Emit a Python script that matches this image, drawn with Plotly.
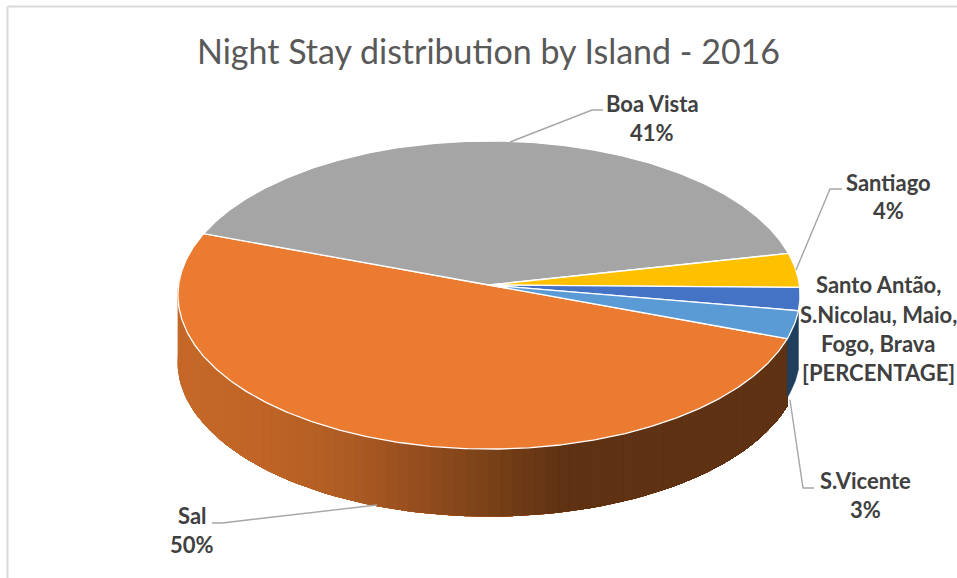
import numpy as np
import plotly.graph_objects as go

# Data
islands = ["Sal", "Boa Vista", "Santiago", "Santo Antão, S.Nicolau, Maio, Fogo, Brava", "S.Vicente"]
shares = [50.0, 41.1, 3.6, 2.4, 2.9]
slice_colors = ["#EB7B30", "#A5A5A5", "#FFC000", "#4472C4", "#5B9BD5"]
title_text = "Night Stay distribution by Island - 2016"

# Projection of the tilted disc onto the page (page pixel axes)
CX, CY, A, B, K, DEPTH = 489.0, 285.0, 310.4, 153.4, 0.065, 67.0
START_DEG = -20.0  # Sal starts here and runs clockwise


def project(t_deg, depth=0.0):
    t = np.radians(t_deg)
    d = 1 + K * np.sin(t)
    return CX + A * np.cos(t) / d, CY - B * np.sin(t) / d + depth


# Angular extent of each slice from the shares
total = sum(shares)
spans = [v / total * 360 for v in shares]
edges = [START_DEG]
for s in spans:
    edges.append(edges[-1] - s)

fig = go.Figure()


def add_poly(xs, ys, fill, line=None, width=1.0):
    fig.add_trace(go.Scatter(x=list(xs), y=list(ys), mode="lines", fill="toself",
                             fillcolor=fill, line=dict(color=line or fill, width=width),
                             hoverinfo="skip", showlegend=False))


# Side wall of Sal, shaded by horizontal position; each band runs on to the
# wall's right end and the next band paints over it, so no seams show
wall_x = [178, 260, 340, 400, 470, 560, 800]
wall_r = [198, 192, 175, 154, 127, 94, 94]
wall_g = [105, 101, 93, 80, 68, 50, 50]
wall_b = [41, 39, 36, 32, 25, 19, 19]
wall_t = np.linspace(edges[0] - 166, edges[0], 84)
for i in range(len(wall_t) - 1):
    arc = wall_t[i:]
    xt, yt = project(arc)
    xb, yb = project(arc, DEPTH)
    xm = float(xt[0])
    col = "rgb(%d,%d,%d)" % (np.interp(xm, wall_x, wall_r), np.interp(xm, wall_x, wall_g),
                             np.interp(xm, wall_x, wall_b))
    add_poly(np.r_[xt, xb[::-1], xt[0]], np.r_[yt, yb[::-1], yt[0]], col, width=0.3)

# Side wall of S.Vicente
sv_t = np.linspace(edges[0], edges[0] + spans[4], 12)
sx, sy = project(sv_t)
sxb, syb = project(sv_t, DEPTH * 0.88)
add_poly(np.r_[sx, sxb[::-1], sx[0]], np.r_[sy, syb[::-1], sy[0]], "#1F3F5C", width=0.5)

# Top faces
for i, col in enumerate(slice_colors):
    ts = np.linspace(edges[i], edges[i + 1], max(8, int(spans[i] * 2)))
    ax, ay = project(ts)
    add_poly(np.r_[CX, ax, CX], np.r_[CY, ay, CY], col, line="#FFFFFF", width=1.3)

# Leader lines
leaders = [
    ([510, 592, 603], [142, 110, 110]),
    ([796, 830, 842], [270, 189, 189]),
    ([790, 803, 814], [400, 488, 488]),
    ([377, 222, 212], [505, 523, 523]),
]
for lx, ly in leaders:
    fig.add_trace(go.Scatter(x=lx, y=ly, mode="lines", line=dict(color="#A6A6A6", width=1.4),
                             hoverinfo="skip", showlegend=False))

# Labels: one entry per text line
label_lines = [
    (652, 103, islands[1]), (652, 132, f"{shares[1]:.0f}%"),
    (888, 182, islands[2]), (888, 210, f"{shares[2]:.0f}%"),
    (878, 284, "Santo Antão,"), (878, 314, "S.Nicolau, Maio,"),
    (878, 343, "Fogo, Brava"), (878, 372, "[PERCENTAGE]"),
    (865, 480, islands[4]), (865, 509, f"{shares[4]:.0f}%"),
    (192, 515, islands[0]), (192, 544, f"{shares[0]:.0f}%"),
]
annotations = [dict(x=x, y=y, xref="x", yref="y", text=f"<b>{t}</b>", showarrow=False,
                    xanchor="center", yanchor="middle",
                    font=dict(family="Lato", size=22, color="#404040"))
               for x, y, t in label_lines]
annotations.append(dict(x=488, y=50, xref="x", yref="y", text=title_text, showarrow=False,
                        xanchor="center", yanchor="middle",
                        font=dict(family="Lato", size=34, color="#595959")))

frame = dict(type="line", xref="x", yref="y", line=dict(color="#D9D9D9", width=2))
shapes = [dict(frame, x0=7.5, x1=7.5, y0=6.5, y1=578),
          dict(frame, x0=7.5, x1=957, y0=6.5, y1=6.5)]

fig.update_layout(
    width=957, height=578, margin=dict(l=0, r=0, t=0, b=0),
    paper_bgcolor="#FFFFFF", plot_bgcolor="#FFFFFF", showlegend=False,
    xaxis=dict(range=[0, 957], visible=False, fixedrange=True),
    yaxis=dict(range=[578, 0], visible=False, fixedrange=True),
    annotations=annotations, shapes=shapes,
)
fig.write_html("out.html", config={"displayModeBar": False},
               post_script="document.body.style.margin='0';document.body.style.overflow='hidden';")
